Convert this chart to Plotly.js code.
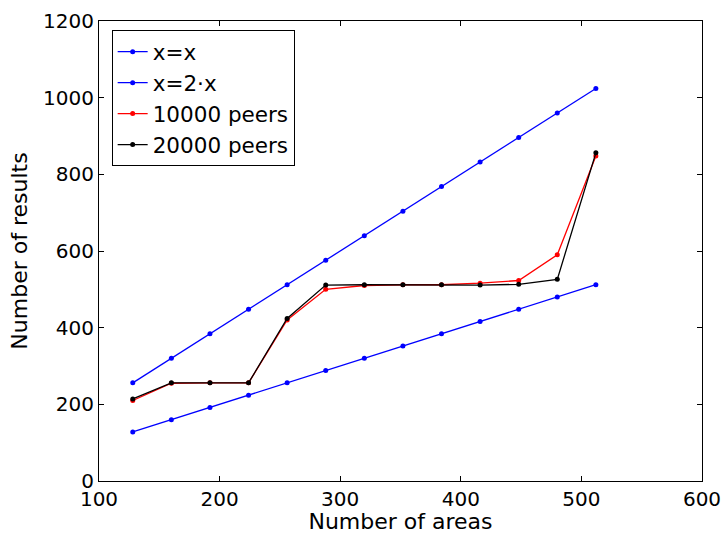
<!DOCTYPE html>
<html>
<head>
<meta charset="utf-8">
<script src="https://cdn.plot.ly/plotly-3.0.1.min.js"></script>
<style>html,body{margin:0;padding:0;background:#fff;}#chart{width:726px;height:534px;}</style>
</head>
<body>
<div id="chart"></div>
<script>
const areas = [128, 160, 192, 224, 256, 288, 320, 352, 384, 416, 448, 480, 512];
const lineX = [128, 160, 192, 224, 256, 288, 320, 352, 384, 416, 448, 480, 512];
const line2X = [256, 320, 384, 448, 512, 576, 640, 704, 768, 832, 896, 960, 1024];
const peers10000 = [210, 255, 256, 256, 420, 500, 510, 512, 512, 516, 523, 590, 848];
const peers20000 = [214, 256, 256, 256, 424, 511, 512, 512, 512, 511, 513, 526, 856];
const seriesNames = ["x=x", "x=2\u00b7x", "10000 peers", "20000 peers"];
const seriesColors = ["#0000ff", "#0000ff", "#ff0000", "#000000"];
const seriesData = [lineX, line2X, peers10000, peers20000];

const traces = seriesData.map((ys, k) => ({
  x: areas,
  y: ys,
  name: seriesNames[k],
  type: "scatter",
  mode: "lines+markers",
  line: {color: seriesColors[k], width: 1.3},
  marker: {color: seriesColors[k], size: 5}
}));

const fam = "DejaVu Sans, Arial, sans-serif";
const tickFont = {family: fam, size: 20, color: "#000"};
const titleFont = {family: fam, size: 22, color: "#000"};
const legendFont = {family: fam, size: 21.5, color: "#000"};
const layout = {
  width: 726, height: 534,
  margin: {l: 99, r: 23.5, t: 20.7, b: 52.7},
  paper_bgcolor: "#fff", plot_bgcolor: "#fff",
  font: titleFont,
  showlegend: true,
  legend: {
    x: 0.021, y: 0.98, xanchor: "left", yanchor: "top",
    bordercolor: "#000", borderwidth: 1, bgcolor: "#fff",
    font: legendFont, itemwidth: 30, tracegroupgap: 0
  },
  xaxis: {
    range: [100, 600], tickvals: [100, 200, 300, 400, 500, 600],
    ticks: "inside", ticklen: 5, tickcolor: "#000", tickwidth: 1,
    showline: true, linecolor: "#000", linewidth: 1, mirror: "ticks",
    showgrid: false, zeroline: false,
    tickfont: tickFont,
    title: {text: "Number of areas", font: titleFont, standoff: 3}
  },
  yaxis: {
    range: [0, 1200], tickvals: [0, 200, 400, 600, 800, 1000, 1200],
    ticks: "inside", ticklen: 5, tickcolor: "#000", tickwidth: 1,
    showline: true, linecolor: "#000", linewidth: 1, mirror: "ticks",
    showgrid: false, zeroline: false,
    tickfont: tickFont,
    title: {text: "Number of results", font: titleFont, standoff: 9}
  }
};
Plotly.newPlot("chart", traces, layout, {displayModeBar: false, staticPlot: true});
</script>
</body>
</html>
